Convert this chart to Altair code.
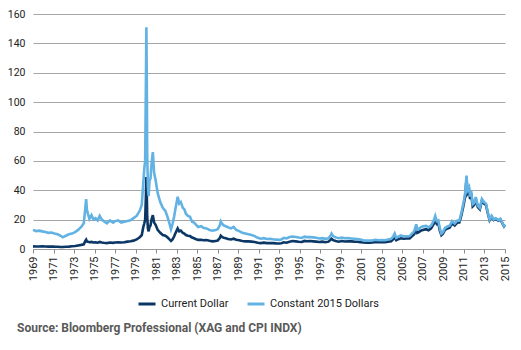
import altair as alt
import pandas as pd

# ---- data ----
years = [
    1969.0, 1969.3, 1969.6, 1969.9, 1970.2, 1970.5, 1970.8, 1971.1, 1971.4, 1971.7,
    1971.9, 1972.2, 1972.5, 1972.8, 1973.1, 1973.4, 1973.7, 1973.95, 1974.1, 1974.18,
    1974.25, 1974.35, 1974.5, 1974.7, 1974.9, 1975.1, 1975.3, 1975.5, 1975.7, 1975.9,
    1976.2, 1976.5, 1976.8, 1977.0, 1977.3, 1977.6, 1977.9, 1978.2, 1978.5, 1978.8,
    1979.1, 1979.4, 1979.6, 1979.75, 1979.85, 1979.93, 1980.0, 1980.05, 1980.09, 1980.13,
    1980.2, 1980.27, 1980.35, 1980.45, 1980.55, 1980.68, 1980.8, 1980.95, 1981.15, 1981.4,
    1981.65, 1981.9, 1982.1, 1982.3, 1982.45, 1982.6, 1982.75, 1982.9, 1983.1, 1983.25,
    1983.4, 1983.6, 1983.75, 1983.9, 1984.1, 1984.3, 1984.5, 1984.7, 1984.9, 1985.1,
    1985.4, 1985.6, 1985.9, 1986.2, 1986.5, 1986.8, 1987.0, 1987.2, 1987.3, 1987.45,
    1987.6, 1987.8, 1988.0, 1988.3, 1988.55, 1988.8, 1989.1, 1989.4, 1989.7, 1990.0,
    1990.3, 1990.6, 1990.9, 1991.2, 1991.5, 1991.8, 1992.1, 1992.4, 1992.7, 1993.0,
    1993.2, 1993.45, 1993.7, 1994.0, 1994.3, 1994.6, 1994.9, 1995.2, 1995.45, 1995.7,
    1996.0, 1996.3, 1996.6, 1996.9, 1997.2, 1997.5, 1997.8, 1998.0, 1998.1, 1998.25,
    1998.5, 1998.8, 1999.1, 1999.4, 1999.7, 2000.0, 2000.3, 2000.6, 2000.9, 2001.2,
    2001.5, 2001.8, 2002.1, 2002.4, 2002.7, 2003.0, 2003.3, 2003.6, 2003.9, 2004.1,
    2004.25, 2004.4, 2004.6, 2004.85, 2005.1, 2005.4, 2005.7, 2005.95, 2006.15, 2006.35,
    2006.45, 2006.6, 2006.8, 2007.0, 2007.3, 2007.55, 2007.8, 2008.05, 2008.2, 2008.35,
    2008.5, 2008.65, 2008.8, 2008.95, 2009.15, 2009.4, 2009.6, 2009.85, 2010.1, 2010.35,
    2010.55, 2010.75, 2010.95, 2011.1, 2011.25, 2011.35, 2011.5, 2011.6, 2011.7, 2011.85,
    2012.0, 2012.15, 2012.35, 2012.55, 2012.75, 2012.95, 2013.15, 2013.3, 2013.5, 2013.7,
    2013.9, 2014.1, 2014.35, 2014.55, 2014.75, 2014.9, 2015.0,
]
current_dollar = [
    1.8, 1.7, 1.75, 1.8, 1.75, 1.65, 1.7, 1.6, 1.55, 1.4,
    1.35, 1.5, 1.6, 1.85, 2.0, 2.4, 2.8, 3.2, 5.5, 6.3,
    5.2, 5.0, 4.6, 4.8, 4.4, 4.5, 4.3, 4.8, 4.4, 4.2,
    4.0, 4.4, 4.2, 4.4, 4.6, 4.4, 4.6, 5.0, 5.3, 5.7,
    6.5, 8.0, 9.5, 15.0, 17.5, 20.0, 35.0, 49.0, 38.0, 22.0,
    14.0, 12.0, 15.0, 16.0, 20.0, 23.0, 18.0, 16.5, 13.0, 11.0,
    9.5, 9.0, 8.0, 6.5, 5.5, 6.5, 8.5, 11.0, 14.0, 12.0,
    12.5, 11.0, 10.5, 9.5, 9.0, 8.8, 7.8, 7.3, 6.6, 6.2,
    6.3, 6.0, 6.1, 5.6, 5.2, 5.5, 5.7, 7.5, 9.0, 8.0,
    7.6, 7.3, 6.8, 6.5, 7.0, 6.3, 5.9, 5.4, 5.2, 5.2,
    5.0, 4.8, 4.3, 4.0, 4.3, 4.0, 4.1, 4.0, 3.8, 3.7,
    3.9, 4.6, 4.3, 5.0, 5.4, 5.2, 4.9, 4.8, 5.5, 5.3,
    5.4, 5.2, 5.0, 4.8, 5.0, 4.6, 5.0, 6.3, 7.0, 6.0,
    5.4, 5.0, 5.4, 5.1, 5.2, 5.2, 5.0, 4.9, 4.7, 4.4,
    4.3, 4.3, 4.4, 4.8, 4.6, 4.7, 4.6, 5.0, 5.3, 6.6,
    8.0, 6.0, 6.7, 7.3, 7.0, 7.1, 7.2, 8.8, 10.0, 14.0,
    11.0, 11.5, 12.5, 13.0, 13.5, 12.8, 14.0, 17.0, 20.0, 17.0,
    17.5, 12.5, 9.5, 10.5, 13.0, 14.0, 14.5, 17.5, 16.0, 18.0,
    18.0, 23.0, 29.5, 35.0, 47.5, 38.0, 40.0, 34.0, 38.0, 29.0,
    30.0, 34.0, 28.5, 27.0, 33.0, 31.0, 30.0, 25.0, 19.5, 22.0,
    19.7, 20.5, 19.3, 20.2, 17.5, 15.5, 16.5,
]
constant_2015 = [
    13.0, 12.2, 12.5, 12.0, 11.5, 11.0, 11.2, 10.5, 10.0, 9.0,
    8.0, 9.0, 10.0, 10.5, 11.5, 13.0, 15.0, 17.5, 28.0, 34.0,
    27.0, 24.0, 20.5, 23.0, 20.0, 21.0, 19.5, 22.5, 20.0, 19.0,
    17.5, 19.5, 18.0, 19.0, 19.5, 18.0, 18.5, 19.0, 19.5, 21.0,
    22.5, 26.0, 30.0, 45.0, 55.0, 60.0, 110.0, 151.0, 115.0, 65.0,
    42.0, 36.0, 46.0, 48.0, 58.0, 66.0, 52.0, 47.0, 38.0, 32.0,
    28.0, 26.0, 22.0, 17.5, 13.5, 17.0, 22.0, 28.0, 35.5, 31.0,
    32.0, 28.0, 27.0, 24.0, 22.5, 22.0, 18.5, 18.0, 16.5, 15.0,
    15.5, 14.5, 14.0, 13.0, 12.5, 13.0, 13.5, 16.0, 18.8, 17.0,
    16.0, 15.5, 14.8, 14.0, 15.0, 13.0, 12.2, 11.0, 10.5, 10.0,
    9.5, 8.8, 7.6, 7.0, 7.4, 6.8, 6.9, 6.6, 6.4, 6.2,
    6.5, 7.6, 7.2, 8.2, 8.5, 8.2, 7.8, 7.6, 8.4, 8.1,
    8.2, 7.9, 7.6, 7.2, 7.4, 6.9, 7.3, 9.2, 10.5, 8.8,
    7.9, 7.3, 7.7, 7.3, 7.4, 7.2, 7.0, 6.8, 6.4, 5.9,
    5.8, 5.7, 5.9, 6.3, 6.0, 6.1, 6.0, 6.5, 6.9, 8.4,
    10.5, 7.6, 8.4, 9.2, 8.7, 8.7, 8.8, 10.6, 12.0, 16.8,
    13.2, 13.7, 14.8, 15.4, 15.7, 14.8, 16.0, 19.3, 22.5, 19.0,
    19.5, 14.0, 10.5, 11.5, 14.3, 15.3, 15.8, 19.0, 17.3, 19.4,
    19.3, 24.6, 31.3, 37.0, 50.0, 40.0, 42.0, 35.6, 39.8, 30.4,
    31.3, 35.4, 29.6, 28.0, 34.1, 32.0, 30.9, 25.7, 20.0, 22.5,
    20.1, 20.9, 19.6, 20.5, 17.7, 15.6, 16.6,
]
series_names = ["Current Dollar", "Constant 2015 Dollars"]
series_colors = ["#0b3766", "#62b2e3"]
x_tick_years = list(range(1969, 2016, 2))
y_tick_values = list(range(0, 161, 20))
source_note = "Source: Bloomberg Professional (XAG and CPI INDX)"

# ---- tables ----
df_cur = pd.DataFrame({"year": years, "value": current_dollar, "series": series_names[0]})
df_con = pd.DataFrame({"year": years, "value": constant_2015, "series": series_names[1]})

FONT = "Roboto"

x_enc = alt.X(
    "year:Q",
    scale=alt.Scale(domain=[1969, 2015], nice=False, zero=False),
    axis=alt.Axis(
        values=x_tick_years, format="d", labelAngle=270, title=None, grid=False,
        tickSize=4, tickColor="#8c8c8c", domainColor="#9a9a9a",
        labelFont=FONT, labelFontSize=11, labelColor="#222222", labelPadding=3,
        labelOverlap=False,
    ),
)
y_enc = alt.Y(
    "value:Q",
    scale=alt.Scale(domain=[0, 160], nice=False),
    axis=alt.Axis(
        values=y_tick_values, title=None, domain=False, ticks=False,
        gridColor="#a6a6a6", gridWidth=1,
        labelFont=FONT, labelFontSize=10.5, labelColor="#222222", labelPadding=8,
    ),
)
color_enc = alt.Color(
    "series:N",
    scale=alt.Scale(domain=series_names, range=series_colors),
    legend=alt.Legend(
        title=None, orient="none", legendX=104, legendY=280, direction="horizontal",
        symbolType="stroke", symbolSize=289, symbolStrokeWidth=3,
        labelFont=FONT, labelFontSize=11, labelColor="#222222",
        columnPadding=12, labelOffset=4,
    ),
)

line_cur = alt.Chart(df_cur).mark_line(strokeWidth=2.6).encode(x=x_enc, y=y_enc, color=color_enc)
line_con = alt.Chart(df_con).mark_line(strokeWidth=2.6).encode(x=x_enc, y=y_enc, color=color_enc)

note = alt.Chart(pd.DataFrame({"t": [source_note]})).mark_text(
    align="left", baseline="middle", font=FONT, fontWeight="bold", fontSize=12, color="#595959"
).encode(x=alt.value(-16), y=alt.value(314), text="t:N")

chart = alt.layer(line_cur, line_con, note).properties(
    width=472, height=235,
    autosize=alt.AutoSizeParams(type="none"),
    padding={"left": 33, "top": 14, "right": 16, "bottom": 101},
    background="white",
).configure_view(stroke=None)

chart.save("out.html", embed_options={"renderer": "svg", "actions": False})
